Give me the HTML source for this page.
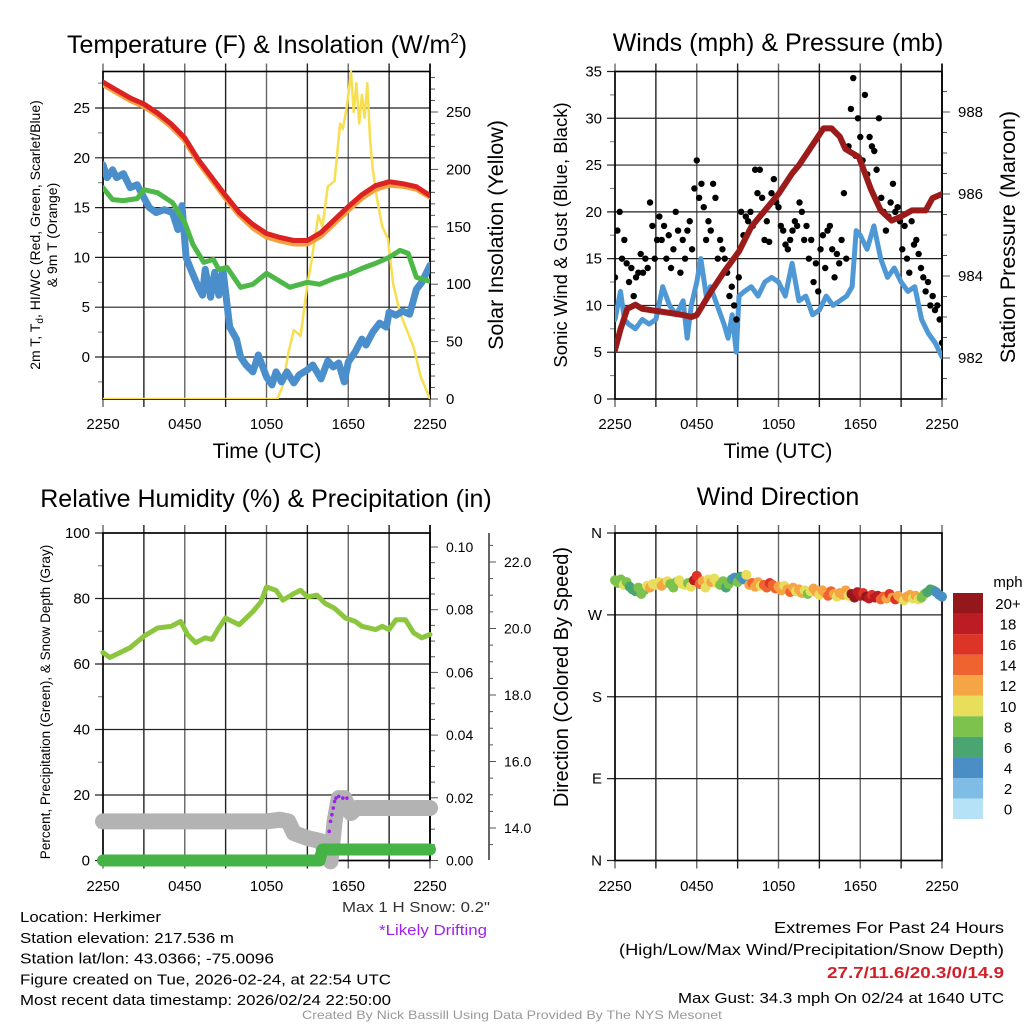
<!DOCTYPE html>
<html><head><meta charset="utf-8"><style>
html,body{margin:0;padding:0;background:#fff;}
svg{display:block;font-family:"Liberation Sans",sans-serif;}
</style></head><body>
<svg id="s" width="1024" height="1024" viewBox="0 0 1024 1024" xmlns="http://www.w3.org/2000/svg"></svg>
<script>
// ---------- data ----------
const xTickLabels = ["2250","0450","1050","1650","2250"];
const tempHours = [0,1,2,3,4,5,6,7,8,9,10,11,12,13,14,15,16,17,18,19,20,21,22,23,24];
const tempRed = [27.6,26.8,26,25.4,24.5,23.4,22,19.8,18,16.2,14.5,13.3,12.4,12,11.7,11.7,12.5,13.8,15.1,16.3,17.2,17.6,17.4,17.1,16.2];
const temp9m = [27.4,26.6,25.8,25.2,24.3,23.2,21.8,19.6,17.8,16,14.3,13.0,12.1,11.7,11.4,11.4,12.2,13.5,14.8,16,16.9,17.3,17.2,16.9,16.1];
const dewHours = [0,0.7,1.5,2.5,3,4,5.1,6,6.6,7.4,8.1,8.5,9.1,10.1,11,12,12.5,13.7,15,15.9,17,18,19,20,21,21.8,22.4,23,24];
const dewGreen = [17,15.8,15.7,15.9,16.8,16.5,15.5,13.5,11.3,9.5,9.8,8.8,9,7,7.3,8.4,8.0,7,7.5,7.3,7.9,8.3,8.9,9.4,10,10.7,10.4,8,7.6];
const wcHours = [0,0.3,0.7,1,1.5,2,2.5,3,3.4,3.9,4.5,5.1,5.5,5.8,6.1,6.5,7,7.3,7.5,7.9,8.2,8.5,8.8,9.3,9.8,10.1,10.5,11,11.4,12,12.4,12.7,13.1,13.5,14,14.4,15,15.4,16,16.5,16.9,17.3,17.7,18,18.5,19,19.3,19.8,20.3,20.8,21,21.5,22,22.5,23,23.4,24];
const wcBlue = [19.3,18,18.8,18,18.4,17,17.3,16,15,14.5,14.8,14.5,12.8,15.2,10,8.6,7,6.2,8.8,6,8.5,6.2,8.8,3,1.8,0,-0.8,-1.5,0.2,-2,-2.8,-1.5,-2.5,-1.5,-2.6,-1.8,-1.3,-0.8,-2.2,-0.4,-1,-0.6,-2.5,-0.5,0.5,1.8,1.2,2.5,3.4,3,4.5,4.2,4.6,4.3,6.8,7.5,9.2];
const solarHours = [0,12.8,13.2,13.6,14.0,14.5,15,15.3,15.8,16.1,16.5,17,17.4,17.6,17.9,18.2,18.4,18.6,18.8,19,19.2,19.4,19.6,19.8,20.1,20.5,20.9,21.3,21.8,22.3,22.8,23.3,24];
const solarVals = [0,0,12,40,60,55,100,120,160,150,185,190,240,235,255,285,250,275,240,265,245,275,225,200,175,150,140,100,75,60,45,20,0];
const presHours = [0,0.4,0.9,1.5,2,3,4,5,5.6,6,7,8,9.1,10,10.5,11,12,13,13.5,14.5,15.3,15.9,16.5,16.9,17.9,18.8,19.5,20.3,21,21.8,22.8,23.3,24];
const presVals = [982.2,982.7,983.2,983.3,983.2,983.15,983.1,983.05,983.0,983.05,983.6,984.1,984.6,985.2,985.4,985.6,986,986.5,986.7,987.2,987.6,987.6,987.4,987.1,986.9,986.1,985.6,985.35,985.45,985.6,985.6,985.9,986];
const sonicHours = [0,0.4,0.7,1,1.5,2,2.5,3,3.5,4,4.5,5,5.3,5.6,6,6.3,6.7,7,7.5,8,8.3,8.6,8.9,9.1,9.5,10,10.5,11,11.5,12,12.5,13,13.5,14,14.5,15,15.5,16,16.5,17,17.4,17.7,18,18.5,19,19.5,20,20.5,21,21.5,22,22.5,23,23.5,24];
const sonicVals = [8.5,11.5,8.5,8,7.5,8.5,8,8.5,12,10,9,10.5,6.5,10,12.5,15,11,12,10,8,6.5,9,5,11,11.5,12,11,12.5,13,12.5,11,14.5,10.5,11,9,9.5,11,10,10.5,11,12,18,17.5,16,18.5,15,13,14,12.5,11.5,12,8.5,7,6,4.5];
const gustVals = [13,18,20,15,17,14.5,12.5,14,11,13,13.5,15.5,13.5,15,14,21,18.5,15,17,19.5,17,18.5,15,17.5,14,16,20,18,13.5,17,15,18,19,16,22.5,25.5,21.5,23,20.5,17,19,18,23,21.5,15,17,16,15,13.5,11,12,10,8.5,13,20,17.5,19.5,19,20,18.5,24.5,22,24.5,21.5,17,19,16.8,22,23.5,21,20.5,18.5,18,16.5,16,17,18,19,18.5,21,20,17,18.5,15,17,12.5,14.5,11.5,16,17.5,14,18,18.5,16,13,15.5,14.5,17,22,15,27,31,34.3,26,30,28,25.5,32.5,24,28,27,26.5,24.5,30,21.5,20,18,19.5,21,23,20,20.5,19,16,18.5,15,13.5,19,16.5,17,15.5,14,13,11.5,12.5,10,11,9.5,10,8.5,6];
const dirVals = [308,305,309,303,306,301,298,296,300,293,297,302,300,304,303,306,302,305,307,304,300,306,308,304,303,305,301,308,313,304,307,300,309,306,310,305,303,307,300,304,309,311,306,312,309,314,303,305,301,306,302,303,300,305,303,299,301,297,302,298,295,300,296,298,294,297,293,296,299,295,292,297,294,291,296,293,290,294,292,297,291,293,289,295,291,294,290,288,292,289,291,287,290,288,293,289,287,291,288,286,290,292,288,291,287,289,293,295,298,297,295,292,290];
const dirSpd = [8,9,8,11,8,7,7,6,8,8,9,11,12,11,10,11,12,12,10,8,9,8,11,10,10,9,11,18,16,15,12,10,11,12,10,11,9,8,7,8,6,5,8,7,4,11,13,14,12,12,10,14,15,16,14,15,13,12,11,12,14,12,11,13,12,10,9,11,13,12,11,12,12,14,15,12,11,12,13,12,11,20,21,19,18,17,20,18,16,19,18,14,15,13,17,12,16,13,12,11,12,13,10,12,11,9,8,7,6,6,5,4,4];
const rhHours = [0,0.5,1,2,3,4,5,5.7,6.2,6.8,7.5,8,8.5,9,10,11,11.6,12,12.7,13.2,14,14.5,15,15.7,16.3,17,17.8,18.5,19,20,20.5,21,21.5,22.2,22.8,23.4,24];
const rhVals = [63.5,62,63,65,68.5,71,71.5,73,69,66.5,68,67.5,71,74,72,76,79,83.5,82.5,79.5,81.5,82.5,80.5,81,78.5,77,74,73,71.5,70.5,71.5,70.5,73.5,73.5,69.5,68,69];
const snowHours = [0,2,4,6,8,10,12,13,13.6,14,15,16,16.4,16.7,17,17.3,17.7,18.2,18.6,20,22,24];
const snowVals = [14.2,14.2,14.2,14.2,14.2,14.2,14.2,14.25,14.2,13.85,13.7,13.6,13.2,13.0,14.2,14.9,14.9,14.45,14.6,14.6,14.6,14.6];
const precipHours = [0,15.9,16.1,24];
const precipVals = [0,0,0.0035,0.0035];
const driftHours = [16.6,16.7,16.8,16.9,17.0,17.1,17.3,17.6,17.9];
const driftVals = [13.9,14.2,14.4,14.6,14.8,14.9,14.95,14.9,14.9];
const cbLabels = ["20+","18","16","14","12","10","8","6","4","2","0"];
const cbColors = ["#93171b","#bc1c24","#dd3428","#ef6330","#f6a545","#e7df5b","#7dc24d","#4aa671","#4a8ec5","#7fbde6","#b5e2f7"];

// ---------- helpers ----------
const S = document.getElementById('s');
const NS = "http://www.w3.org/2000/svg";
function el(tag, attrs, parent, txt){
  const e = document.createElementNS(NS, tag);
  for (const k in attrs) e.setAttribute(k, attrs[k]);
  if (txt !== undefined) e.textContent = txt;
  (parent || S).appendChild(e);
  return e;
}
function lin(d0,d1,r0,r1){ return v => r0 + (v-d0)*(r1-r0)/(d1-d0); }
function pathFrom(xs, ys, fx, fy){
  return xs.map((x,i)=>(i?'L':'M')+fx(x).toFixed(1)+','+fy(ys[i]).toFixed(1)).join('');
}
function txt(x,y,s,opts,name){
  const t = el('text', Object.assign({x:x,y:y,'font-size':14,fill:'#000'},opts||{}), S, s);
  
  
  return t;
}

const L1 = 103, R1 = 430, L2 = 615, R2 = 942;
const T1 = 71.5, B1 = 399, T2 = 533, B2 = 860.5;

function frame(L,R,T,B,name, yTicks, fy, yMinor, fyMinor, leftLabels){
  const g = el('g',{});
  
  
  const fx = lin(0,24,L,R);
  for (let h=0; h<=24; h+=3){
    const x = fx(h);
    const gl = el('line',{x1:x,x2:x,y1:T-8,y2:B+8,stroke: (h%6===0)?'#666':'#222','stroke-width':1.4},g);
    
    
  }
  yTicks.forEach((v,i)=>{
    const y = fy(v);
    const hl = el('line',{x1:L-8,x2:R,y1:y,y2:y,stroke:'#222','stroke-width':1.2},g);
    
    
    if (leftLabels) txt(L-13,y+5,leftLabels[i],{'text-anchor':'end','font-size':15},'y-tick-label');
  });
  (yMinor||[]).forEach(v=>{
    const y = fyMinor(v);
    el('line',{x1:L-5,x2:L,y1:y,y2:y,stroke:'#777','stroke-width':1},g);
  });
  el('rect',{x:L,y:T,width:R-L,height:B-T,fill:'none',stroke:'#000','stroke-width':1.6},g);
  return {g,fx};
}

// ================= Panel 1: Temperature =================
{
  const fy = lin(0,25,357,108);
  const fs = lin(0,250,399,112);
  const ticks=[0,5,10,15,20,25];
  const minor=[-2.5,2.5,7.5,12.5,17.5,22.5,27.5];
  const {g,fx} = frame(L1,R1,T1,B1,'temperature-panel',ticks,fy,minor,fy,ticks.map(String));
  for (let v=0; v<=280; v+=10){
    const y = fs(v);
    el('line',{x1:R1,x2:R1+(v%50===0?8:5),y1:y,y2:y,stroke:'#555','stroke-width':1},g);
    if (v%50===0) txt(R1+16,y+5,String(v),{'font-size':15},'solar-tick-label');
  }
  el('line',{x1:R1,x2:R1,y1:T1-8,y2:B1,stroke:'#000','stroke-width':1.6},g);
  const clip = el('clipPath',{id:'c1'}); el('rect',{x:L1,y:T1-3,width:R1-L1,height:B1-T1+3},clip);
  const lg = el('g',{'clip-path':'url(#c1)'});
  const sol = el('path',{d:pathFrom(solarHours,solarVals,fx,fs),fill:'none',stroke:'#f7df4f','stroke-width':2.5,'stroke-linejoin':'round'},lg);
   
  const blue = el('path',{d:pathFrom(wcHours,wcBlue,fx,fy),fill:'none',stroke:'#4a8fcb','stroke-width':7,'stroke-linejoin':'round','stroke-linecap':'round'},lg);
   
  const grn = el('path',{d:pathFrom(dewHours,dewGreen,fx,fy),fill:'none',stroke:'#4db848','stroke-width':5,'stroke-linejoin':'round','stroke-linecap':'round'},lg);
   
  const org = el('path',{d:pathFrom(tempHours,temp9m,fx,fy),fill:'none',stroke:'#f5a03c','stroke-width':6,'stroke-linejoin':'round','stroke-linecap':'round'},lg);
   
  const red = el('path',{d:pathFrom(tempHours,tempRed,fx,fy),fill:'none',stroke:'#dc2222','stroke-width':5,'stroke-linejoin':'round','stroke-linecap':'round'},lg);
   
  xTickLabels.forEach((s,i)=>txt(fx(i*6),429,s,{'text-anchor':'middle','font-size':15},'x-tick-label'));
  txt(267,458,'Time (UTC)',{'text-anchor':'middle','font-size':21},'x-axis-title');
  const t = txt(267,53,'Temperature (F) & Insolation (W/m',{'text-anchor':'middle','font-size':25},'chart-title');
  el('tspan',{dy:-10,'font-size':15},t,'2'); el('tspan',{dy:10},t,')');
  const ya = el('text',{transform:'translate(40,235) rotate(-90)','text-anchor':'middle','font-size':14},S);
   
  ya.innerHTML = '<tspan x="0" y="0">2m T, T<tspan font-size="10" dy="3">d</tspan><tspan dy="-3">, HI/WC (Red, Green, Scarlet/Blue)</tspan></tspan><tspan x="0" y="17">&amp; 9m T (Orange)</tspan>';
  const ya2 = el('text',{transform:'translate(503,235) rotate(-90)','text-anchor':'middle','font-size':21.5},S,'Solar Insolation (Yellow)');
   
}

// ================= Panel 2: Winds =================
{
  const fy = lin(0,35,399,71.5);
  const fp = lin(982,988,358,112);
  const ticks=[0,5,10,15,20,25,30,35];
  const minor=[2.5,7.5,12.5,17.5,22.5,27.5,32.5];
  const {g,fx} = frame(L2,R2,T1,B1,'winds-panel',ticks,fy,minor,fy,ticks.map(String));
  for (let v=981; v<=989.01; v+=0.5){
    const y = fp(v); if (y<T1||y>B1) continue;
    const maj = Math.abs(v%2)<0.01;
    el('line',{x1:R2,x2:R2+(maj?8:5),y1:y,y2:y,stroke:'#555','stroke-width':1},g);
    if (maj) txt(R2+16,y+5,String(v),{'font-size':15},'pressure-tick-label');
  }
  el('line',{x1:R2,x2:R2,y1:T1-8,y2:B1,stroke:'#000','stroke-width':1.6},g);
  const clip = el('clipPath',{id:'c2'}); el('rect',{x:L2,y:T1-3,width:R2-L2,height:B1-T1+3},clip);
  const lg = el('g',{'clip-path':'url(#c2)'});
  const sw = el('path',{d:pathFrom(sonicHours,sonicVals,fx,fy),fill:'none',stroke:'#4f98d6','stroke-width':5,'stroke-linejoin':'round','stroke-linecap':'round'},lg);
   
  const n = gustVals.length;
  gustVals.forEach((v,i)=>{
    const c = el('circle',{cx:fx(i*24/(n-1)),cy:fy(v),r:3.2,fill:'#000'},lg);
    
    
  });
  const pr = el('path',{d:pathFrom(presHours,presVals,fx,fp),fill:'none',stroke:'#9b1b1b','stroke-width':6,'stroke-linejoin':'round','stroke-linecap':'round'},lg);
   
  xTickLabels.forEach((s,i)=>txt(fx(i*6),429,s,{'text-anchor':'middle','font-size':15},'x-tick-label'));
  txt(778,458,'Time (UTC)',{'text-anchor':'middle','font-size':21},'x-axis-title');
  txt(778,51,'Winds (mph) & Pressure (mb)',{'text-anchor':'middle','font-size':25},'chart-title');
  const ya = el('text',{transform:'translate(567,235) rotate(-90)','text-anchor':'middle','font-size':18.5},S,'Sonic Wind & Gust (Blue, Black)');
   
  const ya2 = el('text',{transform:'translate(1015,237) rotate(-90)','text-anchor':'middle','font-size':21.5},S,'Station Pressure (Maroon)');
   
}

// ================= Panel 3: RH =================
{
  const fy = lin(0,100,860.5,533);
  const fpc = lin(0,0.1,860.5,547);
  const fsn = lin(14,22,828,562);
  const ticks=[0,20,40,60,80,100];
  const minor=[10,30,50,70,90];
  const {g,fx} = frame(L1,R1,T2,B2,'humidity-panel',ticks,fy,minor,fy,ticks.map(String));
  for (let v=0; v<=0.105; v+=0.005){
    const y=fpc(v); const maj = Math.round(v*1000)%20===0;
    el('line',{x1:R1,x2:R1+(maj?8:5),y1:y,y2:y,stroke:'#555','stroke-width':1},g);
    if (maj) txt(R1+16,y+5,v.toFixed(2),{'font-size':14},'precip-tick-label');
  }
  el('line',{x1:R1,x2:R1,y1:T2-8,y2:B2,stroke:'#000','stroke-width':1.6},g);
  el('line',{x1:489,x2:489,y1:533,y2:860,stroke:'#333','stroke-width':1.5},g);
  for (let v=13; v<=23; v+=0.5){
    const y=fsn(v); if (y<533||y>860) continue;
    const maj = Math.abs(v%2)<0.01;
    el('line',{x1:489,x2:489+(maj?7:4),y1:y,y2:y,stroke:'#555','stroke-width':1},g);
    if (maj) txt(504,y+5,v.toFixed(1),{'font-size':14},'snow-tick-label');
  }
  const snow = el('path',{d:pathFrom(snowHours,snowVals,fx,fsn),fill:'none',stroke:'#b3b3b3','stroke-width':16,'stroke-linejoin':'round','stroke-linecap':'round'});
   
  const pc = el('path',{d:pathFrom(precipHours,precipVals,fx,fpc),fill:'none',stroke:'#46b346','stroke-width':12,'stroke-linejoin':'round','stroke-linecap':'round'});
   
  driftHours.forEach((h,i)=>{
    const c=el('circle',{cx:fx(h),cy:fsn(driftVals[i]),r:1.8,fill:'#a020f0'});
     
  });
  const rh = el('path',{d:pathFrom(rhHours,rhVals,fx,fy),fill:'none',stroke:'#8cc63f','stroke-width':5,'stroke-linejoin':'round','stroke-linecap':'round'});
   
  xTickLabels.forEach((s,i)=>txt(fx(i*6),891,s,{'text-anchor':'middle','font-size':15},'x-tick-label'));
  txt(266,507,'Relative Humidity (%) & Precipitation (in)',{'text-anchor':'middle','font-size':25},'chart-title');
  const ya = el('text',{transform:'translate(50,702) rotate(-90)','text-anchor':'middle','font-size':13.5},S,'Percent, Precipitation (Green), & Snow Depth (Gray)');
   
  txt(490,912,'Max 1 H Snow: 0.2"',{'text-anchor':'end','font-size':15,fill:'#333',textLength:148,lengthAdjust:'spacingAndGlyphs'},'max-snow-note');
  txt(487,935,'*Likely Drifting',{'text-anchor':'end','font-size':15,fill:'#a020f0',textLength:108,lengthAdjust:'spacingAndGlyphs'},'drifting-note');
}

// ================= Panel 4: Wind direction =================
{
  const fy = lin(0,360,860.5,533);
  const ticks=[0,90,180,270,360];
  const {g,fx} = frame(L2,R2,T2,B2,'wind-direction-panel',ticks,fy,[],fy,["N","E","S","W","N"]);
  function spdColor(s){ let idx = Math.min(10, Math.floor(s/2)); return cbColors[10-idx]; }
  const n = dirVals.length;
  dirVals.forEach((d,i)=>{
    const c = el('circle',{cx:fx(i*24/(n-1)),cy:fy(d),r:5,fill:spdColor(dirSpd[i])});
    
    
  });
  xTickLabels.forEach((s,i)=>txt(fx(i*6),891,s,{'text-anchor':'middle','font-size':15},'x-tick-label'));
  txt(778,505,'Wind Direction',{'text-anchor':'middle','font-size':25},'chart-title');
  const ya = el('text',{transform:'translate(568,677) rotate(-90)','text-anchor':'middle','font-size':20},S,'Direction (Colored By Speed)');
   
  const cb = el('g',{});
   
  cbColors.forEach((c,i)=>{
    el('rect',{x:953,y:593+i*20.55,width:30,height:20.6,fill:c},cb);
    txt(1008,593+i*20.55+16,cbLabels[i],{'text-anchor':'middle','font-size':15},'colorbar-label');
  });
  txt(1008,587,'mph',{'text-anchor':'middle','font-size':15},'colorbar-title');
}

// ================= Footer text =================
const leftInfo = [["Location: Herkimer",141],["Station elevation: 217.536 m",214],["Station lat/lon: 43.0366; -75.0096",254],["Figure created on Tue, 2026-02-24, at 22:54 UTC",371],["Most recent data timestamp: 2026/02/24 22:50:00",371]];
leftInfo.forEach((r,i)=>txt(20,922+i*20.8,r[0],{'font-size':15,textLength:r[1],lengthAdjust:'spacingAndGlyphs'},'station-info-line'));
txt(1004,933,'Extremes For Past 24 Hours',{'text-anchor':'end','font-size':16,textLength:230,lengthAdjust:'spacingAndGlyphs'},'extremes-title');
txt(1004,955,'(High/Low/Max Wind/Precipitation/Snow Depth)',{'text-anchor':'end','font-size':16,textLength:385,lengthAdjust:'spacingAndGlyphs'},'extremes-subtitle');
txt(1004,978,'27.7/11.6/20.3/0/14.9',{'text-anchor':'end','font-size':16,'font-weight':'bold',fill:'#d0202a',textLength:177,lengthAdjust:'spacingAndGlyphs'},'extremes-values');
txt(1004,1003,'Max Gust: 34.3 mph On 02/24 at 1640 UTC',{'text-anchor':'end','font-size':15,textLength:326,lengthAdjust:'spacingAndGlyphs'},'max-gust-note');
txt(512,1019,'Created By Nick Bassill Using Data Provided By The NYS Mesonet',{'text-anchor':'middle','font-size':12,fill:'#999',textLength:420,lengthAdjust:'spacingAndGlyphs'},'credit-footer');
</script>
</body></html>
